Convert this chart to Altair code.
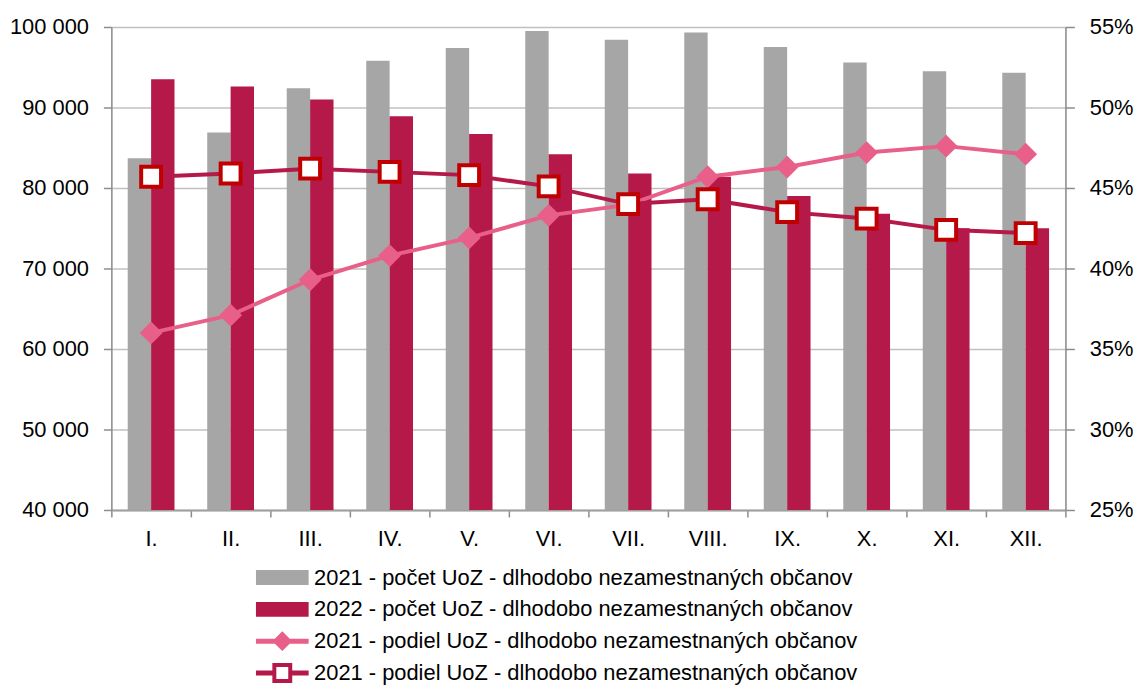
import json
import altair as alt
import pandas as pd

# ---------------- data ----------------
months = ["I.", "II.", "III.", "IV.", "V.", "VI.", "VII.", "VIII.", "IX.", "X.", "XI.", "XII."]
count_2021 = [83700, 86900, 92400, 95800, 97400, 99500, 98400, 99300, 97500, 95600, 94500, 94300]
count_2022 = [93500, 92600, 91000, 88900, 86700, 84200, 81800, 81400, 79000, 76800, 75000, 75000]
share_diamond = [36.0, 37.1, 39.3, 40.8, 41.9, 43.3, 43.95, 45.7, 46.3, 47.2, 47.6, 47.1]
share_square = [45.7, 45.9, 46.2, 46.0, 45.8, 45.1, 44.0, 44.3, 43.5, 43.1, 42.4, 42.2]

series_keys = ["bar2021", "bar2022", "share_a", "share_b"]
series_labels = [
    "2021 - počet UoZ - dlhodobo nezamestnaných občanov",
    "2022 - počet UoZ - dlhodobo nezamestnaných občanov",
    "2021 - podiel UoZ - dlhodobo nezamestnaných občanov",
    "2021 - podiel UoZ - dlhodobo nezamestnaných občanov",
]
left_ticks = [40000, 50000, 60000, 70000, 80000, 90000, 100000]
right_ticks = [25, 30, 35, 40, 45, 50, 55]

# ---------------- styles ----------------
GRAY = "#A6A6A6"
CRIMSON = "#B5194A"
PINK = "#E8608A"
RED = "#C00000"
FONT = "Liberation Sans"
FS = 22

legend_colors = [GRAY, CRIMSON, PINK, CRIMSON]
legend_paths = [
    "M-2.65,-0.75H2.65V0.75H-2.65Z",
    "M-2.65,-0.75H2.65V0.75H-2.65Z",
    "M-2.65,-0.25H2.65V0.25H-2.65Z M0,-1L1,0L0,1L-1,0Z",
    "M-2.65,-0.25H-1V0.25H-2.65Z M1,-0.25H2.65V0.25H1Z M-1,-1H1V1H-1Z M-0.6,-0.6V0.6H0.6V-0.6Z",
]

bar_df = pd.DataFrame({
    "month": months * 2,
    "series": [series_keys[0]] * len(months) + [series_keys[1]] * len(months),
    "value": count_2021 + count_2022,
})
diamond_df = pd.DataFrame({"month": months, "series": series_keys[2], "share": share_diamond})
square_df = pd.DataFrame({"month": months, "series": series_keys[3], "share": share_square})
legend_df = pd.concat([diamond_df, square_df], ignore_index=True)

x_enc = alt.X(
    "month:N", sort=months, title=None,
    scale=alt.Scale(type="band", paddingInner=0, paddingOuter=0),
    axis=alt.Axis(labelAngle=0, tickBand="extent", tickSize=7, tickColor="#8C8C8C", tickWidth=1.5,
                  domainColor="#A0A0A0", domainWidth=2, labelPadding=12,
                  labelFontSize=FS, labelColor="#000000", labelFont=FONT, grid=False),
)

y_left = alt.Y(
    "value:Q", title=None,
    scale=alt.Scale(domain=[40000, 100000], nice=False, zero=False),
    axis=alt.Axis(values=left_ticks, labelExpr="datum.value / 1000 + ' 000'", grid=True,
                  gridColor="#C0C0C0", gridWidth=1.5, domainColor="#8C8C8C", domainWidth=1.5,
                  tickColor="#8C8C8C", tickWidth=1.5, tickSize=8, labelPadding=15,
                  labelFontSize=FS, labelColor="#000000", labelFont=FONT),
)

y_right = alt.Y(
    "share:Q", title=None,
    scale=alt.Scale(domain=[25, 55], nice=False, zero=False),
    axis=alt.Axis(orient="right", values=right_ticks, labelExpr="datum.value + '%'", grid=False,
                  domainColor="#8C8C8C", domainWidth=1.5, tickColor="#8C8C8C", tickWidth=1.5,
                  tickSize=9, labelPadding=15, labelFontSize=FS, labelColor="#000000", labelFont=FONT),
)

bars = alt.Chart(bar_df).mark_bar(opacity=1, clip=True).encode(
    x=x_enc,
    xOffset=alt.XOffset("series:N", sort=series_keys[:2],
                        scale=alt.Scale(domain=series_keys[:2], paddingInner=0, paddingOuter=0.7)),
    y=y_left,
    fill=alt.Fill("series:N", scale=alt.Scale(domain=series_keys[:2], range=[GRAY, CRIMSON]), legend=None),
)

pink_line = alt.Chart(diamond_df).mark_line(color=PINK, strokeWidth=4).encode(x=x_enc, y=y_right)
crimson_line = alt.Chart(square_df).mark_line(color=CRIMSON, strokeWidth=4).encode(x=x_enc, y=y_right)
diamonds = alt.Chart(diamond_df).mark_point(shape="diamond", filled=True, color=PINK, size=529, opacity=1).encode(
    x=x_enc, y=y_right)
squares = alt.Chart(square_df).mark_point(shape="square", filled=True, fill="white", stroke=RED,
                                          strokeWidth=4, size=400, opacity=1).encode(x=x_enc, y=y_right)

label_expr = "{}[indexof({}, datum.value)]".format(
    json.dumps(series_labels, ensure_ascii=False), json.dumps(series_keys))
leg = alt.Legend(title=None, orient="none", legendX=161, legendY=543, direction="vertical",
                 symbolSize=400, symbolStrokeWidth=0, labelFont=FONT, labelFontSize=FS,
                 labelColor="#000000", labelOffset=21, rowPadding=10, padding=0, labelExpr=label_expr,
                 labelLimit=0)
legend_layer = alt.Chart(legend_df).mark_point(size=0, filled=True, opacity=1).encode(
    x=x_enc, y=y_right,
    color=alt.Color("series:N", scale=alt.Scale(domain=series_keys, range=legend_colors), legend=leg),
    shape=alt.Shape("series:N", scale=alt.Scale(domain=series_keys, range=legend_paths), legend=leg),
)

right_group = alt.layer(pink_line, crimson_line, diamonds, squares, legend_layer)

chart = alt.layer(bars, right_group).resolve_scale(y="independent").properties(
    width=960, height=486,
    autosize=alt.AutoSizeParams(type="none"),
    padding={"left": 104, "top": 17, "right": 69, "bottom": 175},
).configure_view(stroke=None).configure(font=FONT)

chart.save("out.html", embed_options={"renderer": "svg", "actions": False})
